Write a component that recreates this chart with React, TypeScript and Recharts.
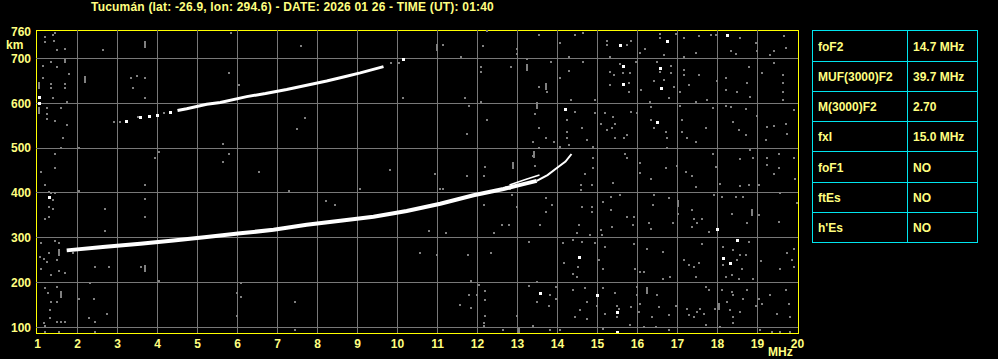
import React from 'react';
import { ScatterChart, Scatter, XAxis, YAxis, ReferenceLine, ReferenceArea } from 'recharts';

// ---------- data ----------
const titleText = 'Tucumán (lat: -26.9, lon: 294.6) - DATE: 2026 01 26 - TIME (UT): 01:40';
const freqTicks = [1, 2, 3, 4, 5, 6, 7, 8, 9, 10, 11, 12, 13, 14, 15, 16, 17, 18, 19, 20];
const heightTicks = [100, 200, 300, 400, 500, 600, 700, 760];
const gridFreqs = [2, 3, 4, 5, 6, 7, 8, 9, 10, 11, 12, 13, 14, 15, 16, 17, 18, 19];
const gridHeights = [100, 200, 300, 400, 500, 600, 700];
const freqDomain = [0.9625, 20.0125];
const heightDomain = [87.7, 763.6];

const tableLabels = ['foF2', 'MUF(3000)F2', 'M(3000)F2', 'fxI', 'foF1', 'ftEs', "h'Es"];
const tableValues = ['14.7 MHz', '39.7 MHz', '2.70', '15.0 MHz', 'NO', 'NO', 'NO'];

// F2 trace (first hop)
const lowerTrace = [
  [1.73, 272], [2.7, 280], [3.57, 287], [4.4, 294], [5.23, 302], [6.07, 310], [6.9, 318],
  [7.73, 329], [8.57, 338], [9.4, 347], [10.23, 360], [11.07, 376], [11.9, 395], [12.65, 409],
  [13.07, 418], [13.48, 427],
];
const lowerCusp = [[13.48, 427], [13.75, 440], [14.0, 457], [14.2, 470], [14.35, 487]];
const xBranch = [[12.8, 418], [13.2, 430], [13.55, 440]];
// second hop trace
const upperTrace = [
  [4.5, 584], [4.73, 588], [5.23, 598], [5.57, 602], [6.23, 615], [6.7, 622], [7.23, 631],
  [7.7, 640], [8.23, 650], [8.7, 660], [9.07, 668], [9.65, 682],
];
const upperWhite = [[3.2, 561], [3.57, 569], [3.78, 571], [3.98, 574], [4.32, 581]];
const upperGray = [[2.9, 559], [3.05, 559], [3.5, 570], [4.15, 578]];

// background echoes (noise)
const grayDots = [
  [14.45, 753], [14.64, 758], [15.24, 739], [15.24, 730], [15.75, 730], [15.84, 739], [16.05, 713], [16.2, 722], [16.55, 755], [16.55, 745], [16.95, 755], [17.15, 745], [17.53, 751], [17.84, 753], [17.95, 753], [18.57, 745], [18.95, 734], [18.99, 716], [19.3, 708], [19.4, 716], [19.7, 723], [19.65, 751], [18.34, 716], [18.45, 710], [17.15, 704], [17.45, 713], [16.67, 708], [15.3, 704], [14.28, 704], [14.05, 734],
  [13.84, 693], [14.28, 673], [14.64, 693], [14.05, 657], [13.74, 626], [14.34, 608], [14.95, 608], [15.3, 671], [15.3, 641], [15.42, 663], [15.55, 688], [15.64, 667], [15.78, 645], [15.82, 667], [15.78, 626], [15.96, 693], [16.09, 630], [16.3, 604], [16.4, 649], [16.49, 693], [16.55, 671], [16.67, 651], [16.84, 684], [16.84, 667], [16.92, 637], [16.78, 611], [17.05, 626], [17.15, 675], [17.17, 663], [17.28, 641], [17.45, 604], [17.53, 663], [17.74, 608], [17.99, 649], [18.2, 656], [18.2, 630], [18.49, 626], [18.74, 645], [18.78, 682], [18.8, 615], [19.1, 667], [19.4, 690], [19.63, 663], [19.63, 645], [19.63, 626], [19.63, 608],
  [14.24, 563], [14.24, 537], [14.24, 522], [14.45, 581], [14.61, 546], [14.74, 518], [14.95, 579], [13.7, 523], [13.9, 514], [15.09, 555], [15.2, 578], [15.24, 540], [15.36, 544], [15.4, 570], [15.45, 555], [15.45, 522], [15.65, 522], [15.75, 529], [15.84, 581], [15.99, 578], [16.34, 591], [16.34, 563], [16.4, 544], [16.74, 522], [16.7, 537], [17.07, 593], [17.11, 563], [17.11, 537], [17.24, 522], [17.45, 514], [17.71, 546], [17.88, 589], [18.2, 593], [18.34, 591], [18.39, 559], [18.53, 540], [18.7, 529], [18.7, 587], [18.99, 572], [19.24, 548], [19.4, 549], [19.7, 554], [19.74, 532], [19.2, 518], [19.92, 585],
  [14.07, 503], [14.28, 507], [14.9, 503], [14.9, 477], [14.9, 455], [14.7, 442], [15.7, 488], [15.75, 479], [16.07, 466], [16.07, 444], [16.34, 432], [16.7, 455], [16.74, 500], [16.99, 460], [17.2, 447], [17.36, 438], [17.89, 487], [17.97, 459], [18.57, 475], [18.82, 496], [18.9, 477], [19.24, 477], [19.24, 462], [19.4, 442], [19.53, 488], [19.53, 455], [19.9, 477], [19.94, 432],
  [14.59, 418], [14.59, 407], [14.86, 418], [15.39, 423], [17.45, 414], [18.07, 421], [18.55, 415], [18.78, 418], [19.03, 418], [17.9, 395], [18.11, 392], [13.7, 388], [13.86, 373], [13.7, 358], [14.61, 369], [14.86, 369], [14.86, 358], [15.14, 381], [15.34, 392], [15.34, 362], [15.57, 395], [15.75, 347], [15.9, 347], [15.89, 328], [16.4, 395], [16.39, 373], [16.28, 332], [16.34, 319], [16.78, 388], [17.0, 354], [16.9, 332], [17.36, 362], [17.4, 343], [17.49, 332], [17.61, 343], [17.36, 325], [17.78, 313], [18.36, 354], [18.45, 392], [18.65, 392], [18.74, 332], [19.03, 351], [19.53, 336], [19.55, 399], [19.99, 377], [13.57, 328], [14.53, 328], [14.49, 310], [14.4, 295], [14.61, 291], [14.8, 306], [15.09, 317], [15.11, 306], [15.36, 325], [15.9, 287], [14.14, 289], [14.95, 289],
  [14.17, 244], [14.5, 234], [14.4, 220], [14.49, 213], [15.03, 250], [15.14, 231], [15.2, 280], [15.95, 231], [16.07, 224], [16.24, 274], [16.15, 224], [16.65, 269], [16.64, 209], [16.82, 213], [17.15, 250], [17.28, 239], [17.4, 234], [17.53, 244], [17.61, 287], [17.45, 213], [18.15, 280], [18.4, 272], [18.57, 261], [18.7, 261], [18.49, 250], [18.61, 231], [18.15, 239], [18.2, 213], [18.36, 217], [18.53, 209], [18.78, 291], [19.09, 249], [19.57, 231], [19.74, 267], [19.86, 250], [19.9, 276], [19.9, 235], [18.9, 209],
  [13.95, 190], [13.82, 172], [13.95, 164], [13.78, 149], [14.4, 183], [14.7, 187], [14.74, 157], [14.57, 138], [14.45, 123], [14.99, 147], [14.74, 120], [15.15, 187], [15.45, 176], [15.49, 149], [15.53, 142], [15.84, 146], [15.49, 123], [15.2, 131], [15.99, 190], [15.99, 172], [16.03, 135], [16.05, 153], [16.49, 172], [16.53, 146], [16.36, 123], [16.78, 127], [16.95, 149], [17.24, 142], [17.28, 127], [17.4, 123], [17.49, 135], [17.57, 142], [17.65, 131], [17.7, 190], [17.78, 183], [17.94, 142], [18.11, 183], [18.36, 179], [18.39, 172], [18.24, 157], [18.32, 138], [18.4, 123], [18.57, 135], [18.65, 164], [18.74, 183], [18.95, 149], [19.03, 164], [19.11, 153], [19.49, 131], [19.78, 153], [19.7, 183], [19.82, 123], [19.32, 172],
  [13.82, 94], [14.07, 95], [15.15, 97], [15.82, 105], [16.15, 101], [16.45, 101], [16.78, 94], [17.7, 105], [18.07, 101], [18.4, 109], [19.07, 94], [19.36, 90], [19.57, 90], [19.82, 90],
  [1.19, 749], [1.38, 753], [1.44, 758], [1.19, 736], [1.42, 740], [1.48, 718], [1.69, 722], [2.63, 718], [1.13, 684], [1.33, 693], [1.48, 680], [1.69, 697], [1.69, 692], [1.79, 666], [1.13, 657], [1.33, 643], [1.33, 635], [1.69, 643], [1.69, 635], [1.38, 613], [3.34, 657], [3.48, 661], [3.69, 657], [3.38, 635], [3.69, 613], [1.23, 590], [1.58, 590], [1.73, 604], [1.23, 576], [1.23, 564], [1.43, 561], [1.73, 552], [1.63, 523], [1.58, 500], [2.04, 501], [1.44, 487], [1.44, 456], [1.09, 447], [1.19, 418], [1.29, 403], [1.33, 399], [1.44, 399], [1.38, 384], [1.29, 369], [1.38, 364], [1.29, 347], [1.19, 342], [2.04, 404], [2.69, 364], [2.69, 315], [3.69, 418], [3.69, 386], [3.69, 347], [3.94, 479], [4.03, 492], [1.09, 289], [1.44, 293], [1.54, 289], [1.05, 257], [1.15, 252], [1.29, 267], [1.23, 245], [1.48, 250], [1.09, 231], [1.34, 218], [1.54, 226], [1.69, 222], [1.88, 266], [2.44, 235], [2.79, 235], [3.59, 235],
  [7.3, 405], [8.22, 383], [8.44, 373], [9.07, 410], [10.78, 316], [10.57, 266], [10.98, 261], [11.22, 311], [11.76, 261], [12.15, 373], [12.33, 266], [12.42, 311], [12.61, 328], [12.78, 328], [12.86, 395], [12.98, 369], [12.82, 410], [12.72, 414], [13.28, 291], [11.05, 410], [11.13, 410],
  [5.84, 758], [7.58, 727], [11.13, 730], [12.23, 762], [12.13, 727], [11.58, 704], [12.98, 722], [12.98, 710], [13.55, 753], [5.78, 667], [6.03, 640], [9.83, 690], [10.03, 690], [10.13, 613], [11.69, 613], [12.08, 680], [12.08, 671], [12.83, 680], [13.23, 698], [13.55, 636], [12.08, 604], [11.78, 594], [12.23, 563], [7.69, 568], [7.48, 542], [11.73, 532], [13.44, 576], [13.55, 546], [13.38, 514], [13.55, 500], [13.38, 482], [12.19, 457], [13.44, 460], [10.94, 442], [11.73, 438], [12.15, 438], [9.82, 451], [6.54, 447], [5.63, 509], [5.78, 488], [5.63, 470],
  [1.19, 187], [1.25, 177], [1.48, 191], [1.33, 157], [1.48, 157], [1.3, 138], [1.3, 121], [1.15, 109], [1.19, 103], [1.48, 112], [1.58, 112], [1.69, 112], [1.19, 90], [1.54, 90], [2.04, 163], [2.4, 163], [2.32, 200], [2.28, 121], [2.44, 112], [2.44, 90], [2.73, 131], [4.03, 203], [5.98, 176], [5.98, 126], [6.08, 200], [6.08, 168], [7.44, 157], [7.44, 94], [11.55, 150], [11.79, 172], [11.84, 144], [11.98, 172], [12.03, 194], [12.19, 182], [12.19, 161], [12.19, 126], [12.15, 111], [12.15, 103], [11.83, 203],
  [13.28, 192], [13.48, 202], [12.98, 126], [13.38, 103], [12.63, 95], [13.48, 157],
];
const grayDashes = [
  [13.7, 639], [3.69, 733], [1.03, 641], [1.03, 585], [2.18, 654], [1.54, 269], [1.58, 174], [3.69, 233],
  [10.98, 725], [13.23, 682], [13.48, 596], [13.4, 488], [12.88, 462], [17.0, 377], [18.86, 358],
  [16.24, 183], [18.03, 149], [13.03, 94],
];
const whiteDots = [
  [15.55, 730], [16.74, 738], [18.24, 753], [15.64, 684], [15.64, 643], [16.55, 678], [16.59, 634],
  [14.2, 587], [16.49, 559], [14.545, 258], [18.13, 254], [18.3, 243], [18.49, 296], [17.99, 319],
  [13.57, 177], [14.99, 172], [15.49, 135], [15.49, 90], [1.03, 615], [1.03, 600], [1.28, 391], [10.13, 699],
];

// ---------- styling ----------
const YELLOW = '#ffff00';
const TEXT = '#ffff80';
const GRID = '#787878';
const NOISE = '#808080';
const CYAN = '#00e5ee';
const FONT = "'Liberation Sans', Arial, Helvetica, sans-serif";

const toPts = (arr: number[][]) => arr.map(([f, h]) => ({ f, h }));

const GrayDot = (p: any) => (
  <rect x={Math.round(p.cx) - 1} y={Math.round(p.cy) - 1} width={2} height={2} fill={NOISE} />
);
const GrayDash = (p: any) => (
  <rect x={Math.round(p.cx) - 1} y={Math.round(p.cy) - 3} width={2} height={7} fill={NOISE} />
);
const WhiteDot = (p: any) => (
  <rect x={Math.round(p.cx) - 1} y={Math.round(p.cy) - 1} width={3} height={3} fill="#ffffff" />
);
const NoShape = () => <g />;

const XTick = (p: any) => (
  <text x={p.x} y={348} textAnchor="middle" fill={TEXT} fontFamily={FONT} fontWeight="bold" fontSize={12}>
    {p.payload.value}
  </text>
);
const YTick = (p: any) => (
  <text x={31} y={p.y + 4.3} textAnchor="end" fill={TEXT} fontFamily={FONT} fontWeight="bold" fontSize={12}>
    {p.payload.value}
  </text>
);

const rowEdges = [30.5, 61.5, 91.5, 121.5, 151.5, 182.5, 212.5, 242.5];
const tblLeft = 812.5;
const tblMid = 907.5;
const tblRight = 977.5;

function Overlay() {
  return (
    <svg width={998} height={359} style={{ position: 'absolute', left: 0, top: 0, pointerEvents: 'none' }}>
      <text x={91} y={11} fill={TEXT} fontFamily={FONT} fontWeight="bold" fontSize={12} letterSpacing={0.2}>
        {titleText}
      </text>
      <text x={6} y={48.5} fill={TEXT} fontFamily={FONT} fontWeight="bold" fontSize={12}>km</text>
      <text x={768} y={356} fill={TEXT} fontFamily={FONT} fontWeight="bold" fontSize={12}>MHz</text>
      <rect x={tblLeft} y={rowEdges[0]} width={tblRight - tblLeft} height={rowEdges[rowEdges.length - 1] - rowEdges[0]} fill="none" stroke={CYAN} />
      <line x1={tblMid} x2={tblMid} y1={rowEdges[0]} y2={rowEdges[rowEdges.length - 1]} stroke={CYAN} />
      {rowEdges.slice(1, -1).map((y, i) => (
        <line key={i} x1={tblLeft} x2={tblRight} y1={y} y2={y} stroke={CYAN} />
      ))}
      {tableLabels.map((lab, i) => {
        const cy = (rowEdges[i] + rowEdges[i + 1]) / 2;
        return (
          <g key={lab}>
            <text x={818} y={cy + 4.5} fill={TEXT} fontFamily={FONT} fontWeight="bold" fontSize={12}>{lab}</text>
            <text x={913} y={cy + 4.5} fill={TEXT} fontFamily={FONT} fontWeight="bold" fontSize={12}>{tableValues[i]}</text>
          </g>
        );
      })}
    </svg>
  );
}

export default function App() {
  return (
    <div style={{ position: 'absolute', left: 0, top: 0, width: 998, height: 359, background: '#000', overflow: 'hidden' }}>
      <ScatterChart width={998} height={359} margin={{ top: 30, right: 200, bottom: 0, left: 0 }}>
        <XAxis
          type="number"
          dataKey="f"
          domain={freqDomain}
          ticks={freqTicks}
          interval={0}
          allowDataOverflow
          axisLine={false}
          tickLine={false}
          height={26}
          tick={XTick}
        />
        <YAxis
          type="number"
          dataKey="h"
          domain={heightDomain}
          ticks={heightTicks}
          interval={0}
          allowDataOverflow
          axisLine={false}
          tickLine={false}
          width={36}
          tick={YTick}
        />
        {gridFreqs.map((f) => (
          <ReferenceLine key={'vx' + f} x={f} stroke={GRID} strokeWidth={1} shapeRendering="crispEdges" />
        ))}
        {gridHeights.map((h) => (
          <ReferenceLine key={'hy' + h} y={h} stroke={GRID} strokeWidth={1} shapeRendering="crispEdges" />
        ))}
        <Scatter data={toPts(grayDots)} shape={GrayDot} isAnimationActive={false} />
        <Scatter data={toPts(grayDashes)} shape={GrayDash} isAnimationActive={false} />
        <Scatter data={toPts(upperGray)} shape={GrayDot} isAnimationActive={false} />
        <Scatter data={toPts(whiteDots)} shape={WhiteDot} isAnimationActive={false} />
        <Scatter data={toPts(upperWhite)} shape={WhiteDot} isAnimationActive={false} />
        <Scatter
          data={toPts(upperTrace)}
          fill="#ffffff"
          line={{ stroke: '#ffffff', strokeWidth: 3 }}
          lineType="joint"
          shape={NoShape}
          isAnimationActive={false}
        />
        <Scatter
          data={toPts(lowerTrace)}
          fill="#ffffff"
          line={{ stroke: '#ffffff', strokeWidth: 4 }}
          lineType="joint"
          shape={NoShape}
          isAnimationActive={false}
        />
        <Scatter
          data={toPts(lowerCusp)}
          fill="#ffffff"
          line={{ stroke: '#ffffff', strokeWidth: 2 }}
          lineType="joint"
          shape={NoShape}
          isAnimationActive={false}
        />
        <Scatter
          data={toPts(xBranch)}
          fill="#ffffff"
          line={{ stroke: '#ffffff', strokeWidth: 1.5 }}
          lineType="joint"
          shape={NoShape}
          isAnimationActive={false}
        />
        <ReferenceArea
          x1={freqDomain[0]}
          x2={freqDomain[1]}
          y1={heightDomain[0]}
          y2={heightDomain[1]}
          fill="none"
          fillOpacity={0}
          stroke={YELLOW}
          strokeWidth={1}
          shapeRendering="crispEdges"
        />
      </ScatterChart>
      <Overlay />
    </div>
  );
}
